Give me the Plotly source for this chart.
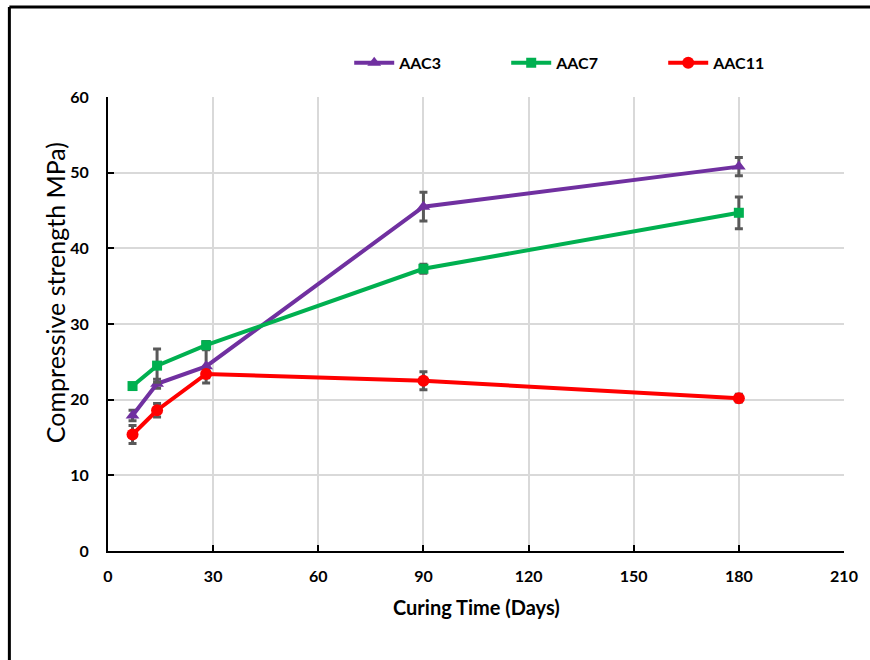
import plotly.graph_objects as go

# Curing ages (days)
days = [7, 14, 28, 90, 180]

# Mean compressive strength (MPa) and standard deviation per mix
aac3 = [17.9, 22.1, 24.4, 45.5, 50.8]
aac3_sd = [0.7, 0.6, 2.2, 1.9, 1.2]

aac7 = [21.8, 24.5, 27.2, 37.3, 44.7]
aac7_sd = [0.3, 2.2, 0.5, 0.6, 2.1]

aac11 = [15.4, 18.6, 23.4, 22.5, 20.2]
aac11_sd = [1.2, 0.9, 0.5, 1.2, 0.5]

x_ticks = [0, 30, 60, 90, 120, 150, 180, 210]
y_ticks = [0, 10, 20, 30, 40, 50, 60]

FONT = "Lato"
ERR_COLOR = "#595959"

series = [
    ("AAC3", aac3, aac3_sd, "#7030A0", "triangle-up", 12),
    ("AAC7", aac7, aac7_sd, "#00B050", "square", 10),
    ("AAC11", aac11, aac11_sd, "#FF0000", "circle", 12),
]

fig = go.Figure()
for name, vals, sd, color, symbol, msize in series:
    fig.add_trace(go.Scatter(
        x=days, y=vals, name=name, mode="lines+markers",
        line=dict(color=color, width=4),
        marker=dict(color=color, symbol=symbol, size=msize),
        error_y=dict(type="data", array=sd, visible=True,
                     color=ERR_COLOR, thickness=3, width=4),
    ))

axis_common = dict(
    showline=True, linecolor="black", linewidth=2,
    ticks="inside", ticklen=6, tickwidth=2, tickcolor="black",
    showgrid=True, gridcolor="#d9d9d9", gridwidth=1.5,
    zeroline=False,
    tickfont=dict(family=FONT, size=16, color="black", weight="bold"),
)

fig.update_xaxes(range=[0, 210], tickvals=x_ticks, ticklabelstandoff=10,
                 **axis_common)
fig.update_yaxes(range=[0, 60], tickvals=y_ticks, ticklabelstandoff=14,
                 **axis_common)

fig.update_layout(
    width=870, height=660, autosize=False,
    margin=dict(l=108, r=22, t=97, b=109),
    paper_bgcolor="white", plot_bgcolor="white",
    font=dict(family=FONT, color="black"),
    showlegend=True,
    legend=dict(
        orientation="h", x=0.6477, y=1.075, xanchor="center", yanchor="middle",
        entrywidth=102, entrywidthmode="pixels",
        font=dict(family=FONT, size=16, color="black", weight="bold"),
        bgcolor="rgba(0,0,0,0)", itemwidth=40,
    ),
    annotations=[
        dict(text="Curing Time (Days)", xref="paper", yref="paper",
             x=0.5, y=-0.123, xanchor="center", yanchor="middle",
             showarrow=False,
             font=dict(family=FONT, size=20, color="black", weight="bold")),
        dict(text="Compressive strength MPa)", xref="paper", yref="paper",
             x=-0.072, y=0.568, xanchor="center", yanchor="middle",
             textangle=-90, showarrow=False,
             font=dict(family=FONT, size=25, color="black", weight="normal")),
    ],
    shapes=[
        # outer frame edges (left and top)
        dict(type="line", xref="paper", yref="paper",
             x0=-0.134, x1=-0.134, y0=-0.25, y1=1.198,
             line=dict(color="black", width=3)),
        dict(type="line", xref="paper", yref="paper",
             x0=-0.134, x1=1.05, y0=1.198, y1=1.198,
             line=dict(color="black", width=3)),
    ],
)

fig.write_html("out.html")
